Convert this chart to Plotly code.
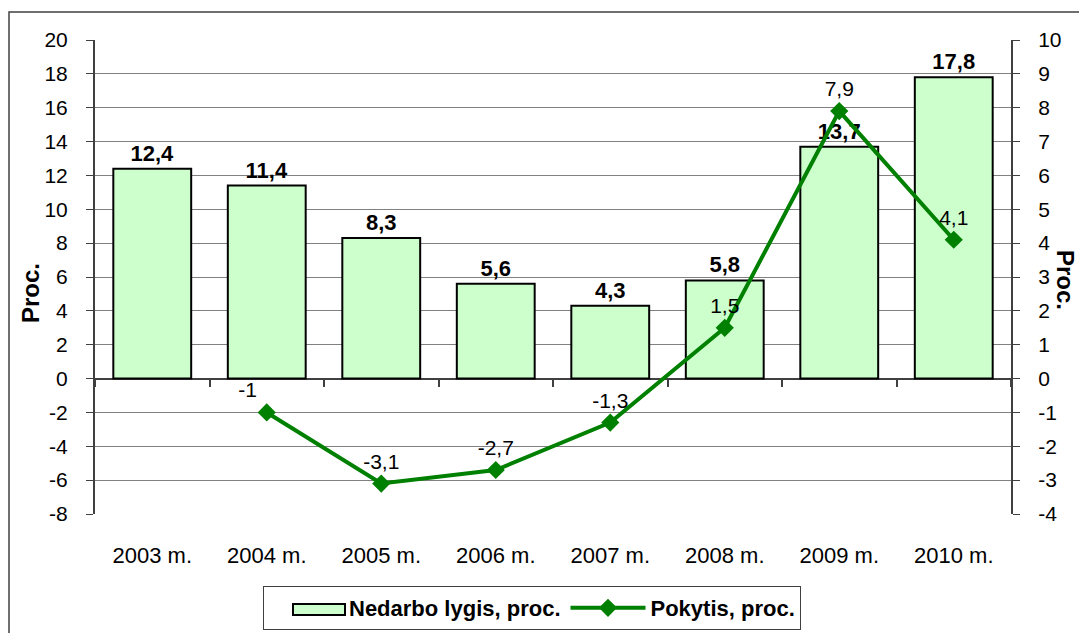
import plotly.graph_objects as go

years = ["2003 m.", "2004 m.", "2005 m.", "2006 m.", "2007 m.", "2008 m.", "2009 m.", "2010 m."]
nedarbo = [12.4, 11.4, 8.3, 5.6, 4.3, 5.8, 13.7, 17.8]
pokytis = [None, -1, -3.1, -2.7, -1.3, 1.5, 7.9, 4.1]

left_ticks = [-8, -6, -4, -2, 0, 2, 4, 6, 8, 10, 12, 14, 16, 18, 20]
right_ticks = [-4, -3, -2, -1, 0, 1, 2, 3, 4, 5, 6, 7, 8, 9, 10]


def fmt(v):
    if v is None:
        return ""
    return f"{v:g}".replace(".", ",")


font = "Liberation Sans, Arial, sans-serif"

# the page body adds an 8px margin, so the figure is sized to fit inside it
W, H = 1079, 625
L, R, T, B = 87, 76, 32, 119
pw, ph = W - L - R, H - T - B


def px_x(x):
    return (x - L) / pw


def px_y(y):
    return (H - B - y) / ph


fig = go.Figure()

fig.add_trace(go.Bar(
    x=years, y=nedarbo, name="Nedarbo lygis, proc.", showlegend=False,
    marker=dict(color="#CCFFCC", line=dict(color="black", width=2)),
    width=0.68,
    text=[fmt(v) for v in nedarbo], textposition="outside",
    textfont=dict(family=font, size=22, color="black", weight="bold"),
    cliponaxis=False,
))

# legend-only entry for the bars; its icon is drawn as a wide box below
fig.add_trace(go.Scatter(
    x=[None], y=[None], name="Nedarbo lygis, proc.", mode="lines",
    line=dict(color="rgba(0,0,0,0)", width=2),
))

line_pos = ["top center"] * len(pokytis)
line_pos[1] = "top left"

fig.add_trace(go.Scatter(
    x=years, y=pokytis, name="Pokytis, proc.", xaxis="x2", yaxis="y2",
    mode="lines+markers+text",
    line=dict(color="#008000", width=4),
    marker=dict(symbol="diamond", size=14, color="#008000"),
    text=[fmt(v) for v in pokytis], textposition=line_pos,
    textfont=dict(family=font, size=21, color="black"),
    cliponaxis=False,
))

fig.update_layout(
    width=W, height=H,
    margin=dict(l=L, r=R, t=T, b=B),
    paper_bgcolor="white", plot_bgcolor="white",
    font=dict(family=font, size=20, color="black"),
    showlegend=True,
    xaxis=dict(
        type="category", showgrid=False, showline=False,
        ticks="outside", ticklen=22, tickcolor="rgba(0,0,0,0)",
        tickfont=dict(size=22), range=[-0.5, 7.5],
    ),
    xaxis2=dict(
        type="category", overlaying="x", anchor="free",
        position=(0 - -8) / 28, showline=False, ticks="outside",
        tickson="boundaries", ticklen=7, tickcolor="#404040", tickwidth=1.5,
        showticklabels=False, showgrid=False, range=[-0.5, 7.5],
    ),
    yaxis=dict(
        range=[-8, 20], tickvals=left_ticks, ticktext=[str(v) for v in left_ticks],
        showgrid=True, gridcolor="#808080", gridwidth=1,
        zeroline=True, zerolinecolor="#404040", zerolinewidth=1.5,
        showline=True, linecolor="#404040", linewidth=2,
        ticks="outside", ticklen=7, tickcolor="#404040",
        tickfont=dict(size=21), ticklabelstandoff=14,
    ),
    yaxis2=dict(
        range=[-4, 10], tickvals=right_ticks, ticktext=[str(v) for v in right_ticks],
        overlaying="y", side="right", showgrid=False,
        zeroline=False, showline=True, linecolor="#404040", linewidth=2,
        ticks="outside", ticklen=7, tickcolor="#404040",
        tickfont=dict(size=21), ticklabelstandoff=14,
    ),
    legend=dict(
        orientation="h", xref="container", x=255 / W, xanchor="left",
        yref="container", y=1 - 578 / H, yanchor="top",
        bordercolor="#404040", borderwidth=1, bgcolor="rgba(0,0,0,0)",
        font=dict(size=22, weight="bold"),
        itemwidth=75,
    ),
)

# axis titles
fig.add_annotation(
    text="<b>Proc.</b>", textangle=-90, xref="paper", yref="paper",
    x=px_x(22), y=px_y(285), xanchor="center", yanchor="middle",
    showarrow=False, font=dict(size=24),
)
fig.add_annotation(
    text="<b>Proc.</b>", textangle=90, xref="paper", yref="paper",
    x=px_x(1058), y=px_y(272), xanchor="center", yanchor="middle",
    showarrow=False, font=dict(size=24),
)

# outer chart frame
fig.add_shape(
    type="rect", xref="paper", yref="paper",
    x0=px_x(1), x1=px_x(W + 10), y0=px_y(H + 10), y1=px_y(4),
    line=dict(color="#404040", width=1.5), layer="below",
)

# legend icon for the bar series
fig.add_shape(
    type="rect", xref="paper", yref="paper",
    x0=px_x(285), x1=px_x(337), y0=px_y(607), y1=px_y(596),
    fillcolor="#CCFFCC", line=dict(color="black", width=2), layer="above",
)

fig.write_html("out.html")
